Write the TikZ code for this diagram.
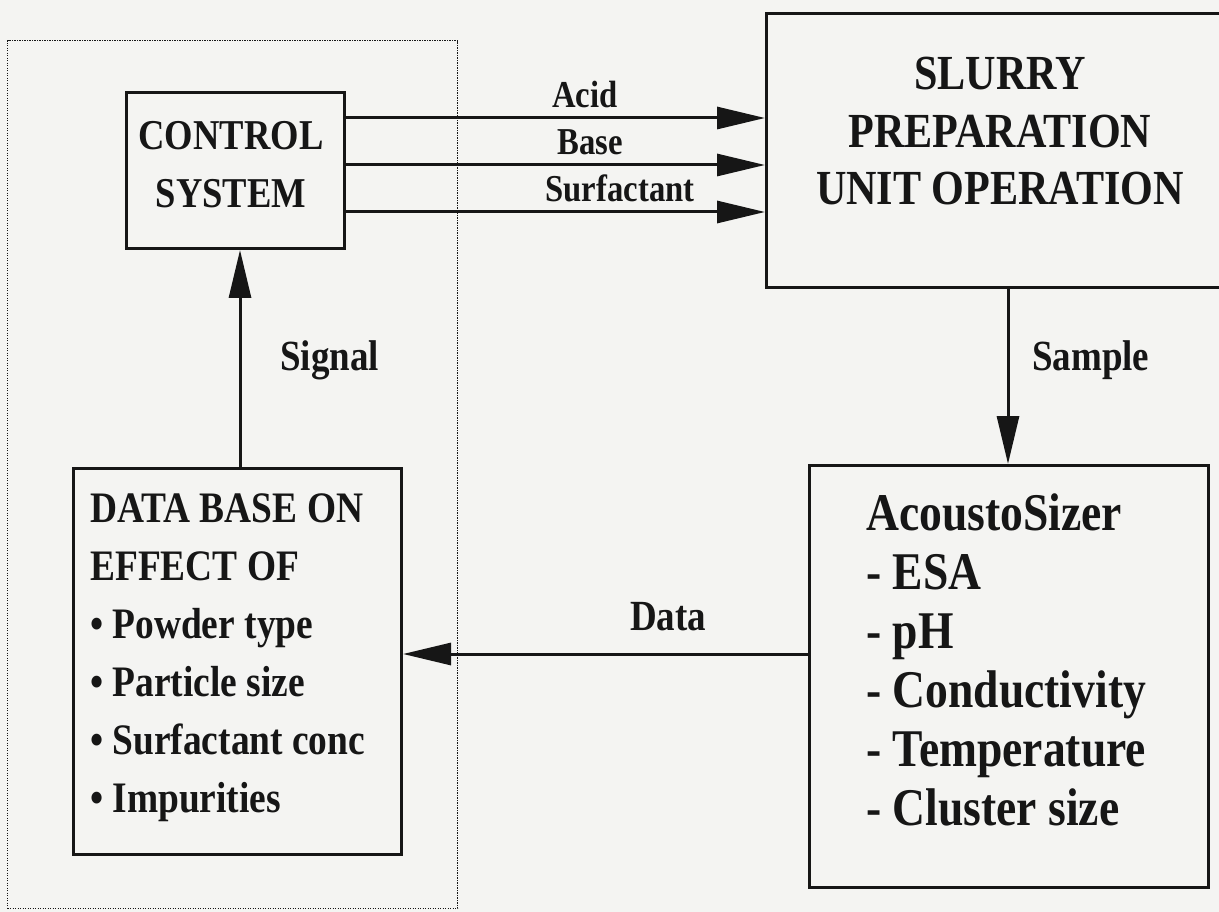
\documentclass[tikz,border=0pt]{standalone}
\usepackage{fontspec}
\setmainfont[FakeStretch=0.86]{Liberation Serif}
\usetikzlibrary{arrows.meta}
\definecolor{paper}{RGB}{244,244,242}
\definecolor{ink}{RGB}{22,22,22}
\tikzset{
  box/.style={draw=ink, line width=3pt, inner sep=0pt, anchor=north west},
  arr/.style={draw=ink, line width=3pt, -{Triangle[length=48pt,width=22pt]}},
  txt/.style={text=ink, inner sep=0pt},
  cttxt/.style={txt, align=center, font=\bfseries\fontsize{42.5}{58}\selectfont},
  sltxt/.style={txt, align=center, font=\bfseries\fontsize{49}{57.5}\selectfont},
  dbtxt/.style={txt, align=left, font=\bfseries\fontsize{43.5}{58}\selectfont},
  actxt/.style={txt, align=left, font=\bfseries\fontsize{53}{59}\selectfont},
  lbl/.style={txt, font=\bfseries\fontsize{38}{40}\selectfont},
  mid/.style={txt, font=\bfseries\fontsize{43}{46}\selectfont},
  frame/.style={draw=ink, line width=1.3pt, dash pattern=on 1.3pt off 1.2pt, inner sep=0pt, anchor=north west}
}
\begin{document}
\begin{tikzpicture}[x=1pt,y=-1pt]
\fill[paper] (0,0) rectangle (1219,912);
\useasboundingbox (0,0) rectangle (1219,912);
% dotted frame
\node[frame, minimum width=450pt, minimum height=868pt] (frame) at (7,40) {};
% boxes
\node[box, minimum width=218pt, minimum height=156pt] (ctrl) at (125,91) {};
\node[cttxt, anchor=north] (ctrltext) at (231,121) {CONTROL\\SYSTEM};
\node[box, minimum width=470pt, minimum height=274pt] (slurry) at (765,12) {};
\node[sltxt, anchor=north] (slurrytext) at (1000,57) {SLURRY\\PREPARATION\\UNIT OPERATION};
\node[box, minimum width=328pt, minimum height=386pt] (db) at (72,467) {};
\node[dbtxt, anchor=north west] (dbtext) at (90,493)
  {DATA BASE ON\\EFFECT OF\\\textbullet\ Powder type\\\textbullet\ Particle size\\\textbullet\ Surfactant conc\\\textbullet\ Impurities};
\node[box, minimum width=399pt, minimum height=422pt] (aco) at (808,464) {};
\node[actxt, anchor=north west] (acotext) at (866,494)
  {AcoustoSizer\\- ESA\\- pH\\- Conductivity\\- Temperature\\- Cluster size};
% connectors
\draw[arr] (ctrl.east |- 0,118) -- (slurry.west |- 0,118);
\draw[arr] (ctrl.east |- 0,165) -- (slurry.west |- 0,165);
\draw[arr] (ctrl.east |- 0,212) -- (slurry.west |- 0,212);
\draw[arr] (db.north -| 240,0) -- (ctrl.south -| 240,0);
\draw[arr] (slurry.south -| 1008,0) -- (aco.north -| 1008,0);
\draw[arr] (aco.west |- 0,654) -- (db.east |- 0,654);
% labels
\node[lbl, anchor=base] (acid) at (585,108) {Acid};
\node[lbl, anchor=base] (base) at (590,155) {Base};
\node[lbl, anchor=base] (surf) at (620,202) {Surfactant};
\node[mid, anchor=base west] (signal) at (280,370) {Signal};
\node[mid, anchor=base west] (sample) at (1032,370) {Sample};
\node[mid, anchor=base] (data) at (668,630) {Data};
\end{tikzpicture}
\end{document}
